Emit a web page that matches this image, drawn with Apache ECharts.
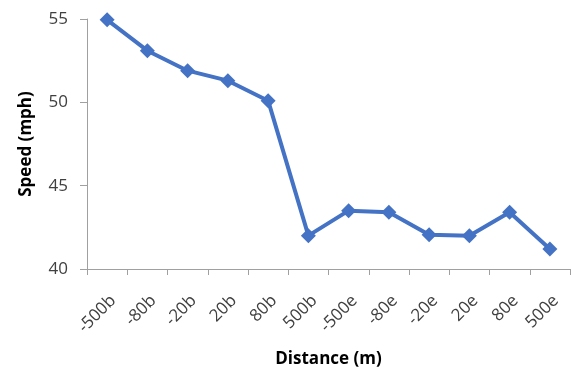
<!DOCTYPE html>
<html><head><meta charset="utf-8">
<script src="https://cdn.jsdelivr.net/npm/echarts@6/dist/echarts.min.js"></script>
<style>html,body{margin:0;padding:0;background:#fff}#c{width:571px;height:371px}</style>
</head><body><div id="c"></div>
<script>
var categories = ['-500b','-80b','-20b','20b','80b','500b','-500e','-80e','-20e','20e','80e','500e'];
var speed = [54.95, 53.1, 51.9, 51.3, 50.1, 42.0, 43.5, 43.4, 42.05, 42.0, 43.4, 41.2];
var yTicks = [40, 45, 50, 55];

var chart = echarts.init(document.getElementById('c'), null, {renderer:'canvas'});
chart.setOption({
  animation: false,
  backgroundColor: '#fff',
  grid: {left: 87, right: 1, top: 19, bottom: 102, containLabel: false, outerBoundsMode: 'none'},
  xAxis: {
    type: 'category', data: categories, boundaryGap: true,
    name: 'Distance (m)', nameLocation: 'middle', nameGap: 82,
    nameTextStyle: {fontFamily: 'Open Sans', fontWeight: 'bold', fontSize: 17, color: '#000'},
    axisLine: {lineStyle: {color: '#a0a0a0', width: 1}},
    axisTick: {show: true, length: 6, lineStyle: {color: '#a0a0a0'}},
    axisLabel: {rotate: 45, fontFamily: 'Open Sans', fontSize: 17, color: '#404040', margin: 23, interval: 0, verticalAlign: 'top'}
  },
  yAxis: {
    type: 'value', min: yTicks[0], max: yTicks[yTicks.length-1], interval: 5,
    name: 'Speed (mph)', nameLocation: 'middle', nameGap: 52, nameRotate: 90,
    nameTextStyle: {fontFamily: 'Open Sans', fontWeight: 'bold', fontSize: 17, color: '#000'},
    axisLine: {show: true, lineStyle: {color: '#a0a0a0', width: 1}},
    axisTick: {show: true, length: 7, lineStyle: {color: '#a0a0a0'}},
    splitLine: {show: false},
    axisLabel: {fontFamily: 'Open Sans', fontSize: 17, color: '#404040', margin: 19}
  },
  series: [{
    type: 'line', data: speed,
    symbol: 'diamond', symbolSize: 15,
    lineStyle: {color: '#4472C4', width: 4},
    itemStyle: {color: '#4472C4'}
  }]
});
</script></body></html>
